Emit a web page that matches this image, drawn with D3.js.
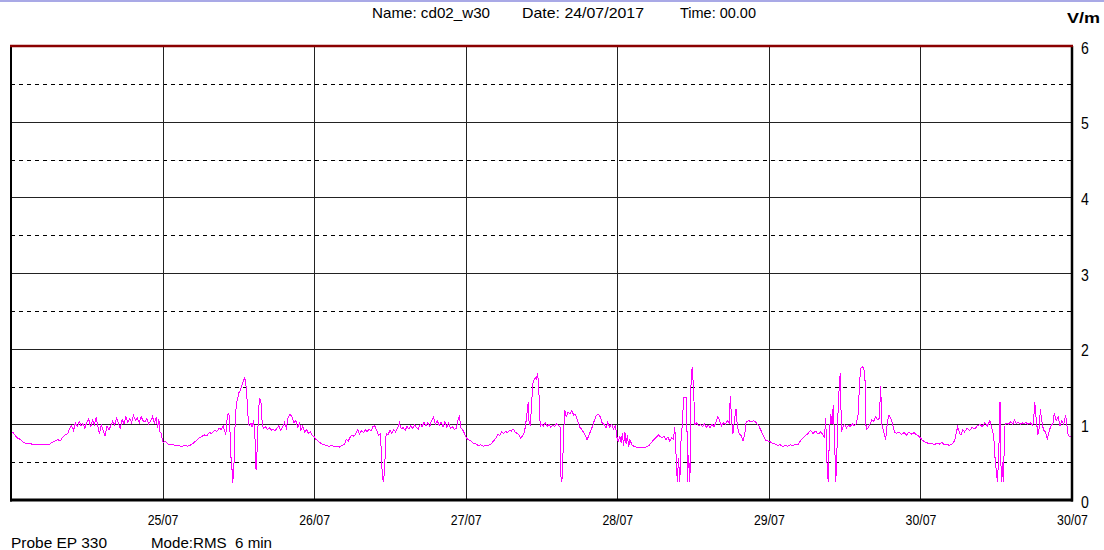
<!DOCTYPE html>
<html>
<head>
<meta charset="utf-8">
<script src="https://cdn.jsdelivr.net/npm/d3@7"></script>
<style>
  body { margin: 0; background: #fff; }
  text { font-family: "Liberation Sans", Arial, sans-serif; fill: #000; white-space: pre; }
</style>
</head>
<body>
<svg id="chart" width="1104" height="550"></svg>
<script>
// values: [hours since 24/07 00:00, V/m]
var day1 = [[0,0.88],[0.3,0.90],[0.6,0.86],[1,0.82],[1.5,0.80],[2,0.76],[2.5,0.74],[3,0.75],[3.5,0.73],[4,0.73],[5,0.73],[5.5,0.74],[6,0.73],[6.5,0.76],[7,0.78],[7.4,0.80],[7.8,0.78],[8.2,0.83],[8.6,0.86],[9,0.88],[9.3,0.95],[9.6,0.98],[9.9,0.92],[10.2,1.02],[10.5,0.97],[10.8,1.04],[11.1,0.98],[11.4,1.01],[11.7,0.95],[12,1.03],[12.3,1.07],[12.6,0.96],[12.9,1.05],[13.2,1.00],[13.5,1.09],[13.8,0.95],[14,0.88],[14.3,0.99],[14.6,0.92],[14.9,0.85],[15.2,0.97],[15.5,0.93],[15.8,0.98],[16.1,1.04],[16.4,0.99],[16.7,1.08],[17,1.02],[17.3,0.95],[17.6,1.06],[17.9,1.01],[18.2,1.10],[18.5,1.03],[18.8,1.08],[19.1,1.02],[19.4,1.12],[19.7,1.05],[20,1.08],[20.3,1.02],[20.6,1.10],[20.9,1.05],[21.2,1.03],[21.5,1.08],[21.8,1.01],[22.1,1.04],[22.4,1.10],[22.7,1.02],[23,1.09],[23.2,0.95],[23.4,1.07],[23.6,0.90],[23.8,0.88],[24,0.77]];
var day2 = [[24.1,0.76],[24.4,0.78],[24.8,0.74],[25.2,0.73],[25.6,0.74],[26,0.72],[26.5,0.72],[27,0.71],[27.5,0.72],[28,0.71],[28.5,0.73],[29,0.76],[29.4,0.79],[29.8,0.82],[30.2,0.84],[30.6,0.86],[31,0.85],[31.4,0.89],[31.8,0.88],[32.2,0.92],[32.6,0.91],[33,0.95],[33.3,0.93],[33.6,0.98],[33.8,0.92],[34,0.86],[34.2,1.05],[34.4,1.15],[34.6,1.10],[34.8,0.60],[35,0.40],[35.1,0.22],[35.3,0.45],[35.5,1.05],[35.7,1.28],[35.9,1.35],[36.1,1.42],[36.3,1.45],[36.6,1.52],[36.8,1.58],[37,1.62],[37.2,1.52],[37.4,1.30],[37.6,1.00],[37.8,0.98],[38,1.02],[38.2,0.96],[38.4,1.05],[38.6,0.90],[38.8,0.40],[39,0.70],[39.2,1.20],[39.4,1.35],[39.6,1.28],[39.8,0.98],[40,0.95],[40.3,0.97],[40.6,0.93],[40.9,0.96],[41.2,0.92],[41.5,0.94],[41.8,0.91],[42.1,0.95],[42.4,0.98],[42.7,0.92],[43,0.96],[43.3,1.02],[43.6,0.95],[43.9,1.10],[44.2,1.13],[44.5,1.10],[44.8,1.02],[45.1,1.05],[45.4,0.96],[45.7,1.02],[45.9,0.92],[46.2,0.98],[46.5,0.90],[46.8,0.93],[47.1,0.88],[47.4,0.90],[47.7,0.85],[48,0.84]];
var day3 = [[48.3,0.80],[48.6,0.78],[48.9,0.76],[49.2,0.74],[49.6,0.73],[50,0.72],[50.4,0.71],[50.8,0.72],[51.2,0.70],[51.6,0.71],[52,0.70],[52.4,0.72],[52.8,0.74],[53.1,0.80],[53.4,0.78],[53.7,0.83],[54,0.86],[54.3,0.84],[54.6,0.88],[54.9,0.93],[55.2,0.87],[55.5,0.92],[55.8,0.89],[56.1,0.93],[56.4,0.90],[56.7,0.94],[57,0.91],[57.3,0.97],[57.6,0.98],[57.9,0.92],[58.2,0.86],[58.5,0.88],[58.8,0.30],[59,0.24],[59.2,0.50],[59.4,0.88],[59.7,0.86],[60,0.92],[60.3,0.88],[60.6,0.93],[60.9,0.90],[61.2,0.95],[61.5,1.02],[61.8,0.94],[62.1,0.96],[62.4,0.92],[62.7,0.97],[63,0.94],[63.3,0.98],[63.6,0.95],[63.9,0.99],[64.2,0.96],[64.5,0.94],[64.8,1.00],[65.1,0.97],[65.4,1.03],[65.7,0.98],[66,1.02],[66.3,0.97],[66.6,1.05],[66.9,1.10],[67.2,1.00],[67.5,1.05],[67.8,0.98],[68.1,1.03],[68.4,0.97],[68.7,1.04],[69,0.96],[69.3,1.02],[69.6,0.95],[69.9,0.97],[70.2,0.93],[70.5,0.95],[70.8,1.06],[71,1.12],[71.2,0.96],[71.5,0.93],[71.8,0.88],[72.1,0.82]];
var day4 = [[72.4,0.80],[72.8,0.78],[73.2,0.75],[73.6,0.74],[74,0.72],[74.4,0.73],[74.8,0.71],[75.2,0.72],[75.6,0.72],[76,0.74],[76.4,0.78],[76.8,0.82],[77.1,0.87],[77.4,0.85],[77.7,0.90],[78,0.88],[78.3,0.91],[78.6,0.89],[78.9,0.92],[79.2,0.91],[79.5,0.94],[79.8,0.90],[80.1,0.88],[80.4,0.87],[80.7,0.82],[81,0.85],[81.3,0.90],[81.5,1.00],[81.7,1.15],[81.9,1.30],[82,1.05],[82.2,0.98],[82.4,1.20],[82.6,1.54],[82.8,1.58],[83,1.62],[83.2,1.60],[83.4,1.68],[83.6,1.40],[83.8,0.97],[84,1.00],[84.3,0.98],[84.6,1.02],[84.9,0.97],[85.2,1.00],[85.5,0.96],[85.8,0.99],[86.1,0.97],[86.4,1.01],[86.7,0.98],[87,0.96],[87.1,0.24],[87.3,0.30],[87.5,0.90],[87.7,1.19],[87.9,1.10],[88.2,1.16],[88.5,1.14],[88.8,1.18],[89.1,1.12],[89.4,1.13],[89.7,1.05],[90,0.97],[90.3,0.94],[90.6,0.90],[90.9,0.86],[91.2,0.80],[91.5,0.85],[91.8,0.92],[92.1,0.98],[92.4,1.06],[92.7,1.12],[93,1.13],[93.3,1.10],[93.6,1.02],[93.9,1.00],[94.2,0.95],[94.5,1.03],[94.8,0.96],[95.1,1.00],[95.4,0.94],[95.7,0.98],[96,0.80]];
var day5 = [[96.2,0.78],[96.4,0.85],[96.6,0.76],[96.8,0.88],[97,0.72],[97.2,0.90],[97.4,0.74],[97.6,0.86],[97.8,0.70],[98,0.80],[98.3,0.73],[98.6,0.71],[99,0.70],[99.4,0.69],[99.8,0.70],[100.2,0.69],[100.6,0.70],[101,0.72],[101.4,0.76],[101.8,0.80],[102.2,0.83],[102.5,0.86],[102.8,0.84],[103.1,0.82],[103.4,0.85],[103.7,0.80],[104,0.83],[104.3,0.78],[104.6,0.82],[104.9,0.80],[105.1,0.97],[105.3,0.60],[105.5,0.24],[105.7,0.55],[105.9,0.24],[106.1,0.80],[106.3,1.00],[106.5,1.35],[106.8,1.35],[107,1.35],[107.1,0.24],[107.3,0.60],[107.5,0.24],[107.7,1.70],[107.9,1.75],[108.1,1.40],[108.3,1.00],[108.6,1.02],[108.9,0.98],[109.2,1.00],[109.5,0.97],[109.8,1.01],[110.1,0.96],[110.4,0.99],[110.7,0.95],[111,1.00],[111.3,0.97],[111.6,1.02],[111.9,1.10],[112.2,1.05],[112.5,0.98],[112.8,1.02],[113.1,1.00],[113.4,1.05],[113.7,1.02],[113.9,1.37],[114.1,1.05],[114.3,0.87],[114.6,1.08],[114.8,1.20],[115,0.98],[115.3,0.88],[115.6,0.85],[115.9,0.78],[116.2,0.88],[116.4,1.03],[116.8,1.05],[117.2,1.03],[117.6,1.05],[118,1.02],[118.4,0.98],[118.8,0.91],[119.1,0.85],[119.5,0.79],[119.8,0.78]];
var day6 = [[120.2,0.77],[120.6,0.75],[121,0.74],[121.4,0.72],[121.8,0.73],[122.2,0.71],[122.6,0.72],[123,0.71],[123.4,0.73],[123.8,0.72],[124.2,0.74],[124.6,0.73],[125,0.78],[125.4,0.82],[125.8,0.85],[126.2,0.88],[126.6,0.92],[127,0.88],[127.4,0.91],[127.8,0.87],[128.2,0.90],[128.6,0.86],[128.8,0.82],[129,1.08],[129.2,0.50],[129.4,0.24],[129.6,0.90],[129.8,1.14],[130,1.00],[130.2,1.25],[130.4,0.80],[130.6,0.24],[130.8,0.70],[131,1.30],[131.3,1.68],[131.5,0.90],[131.7,0.96],[132,1.00],[132.3,0.95],[132.6,0.99],[132.9,0.97],[133.2,1.01],[133.5,0.98],[133.8,1.00],[134.1,1.10],[134.4,1.60],[134.6,1.75],[134.9,1.76],[135.2,1.68],[135.4,0.93],[135.7,0.95],[136,1.00],[136.3,1.06],[136.6,1.04],[136.9,1.10],[137.2,1.06],[137.5,1.08],[137.7,1.50],[137.9,1.00],[138.2,0.90],[138.5,0.80],[138.8,1.05],[139,1.12],[139.3,1.08],[139.6,1.00],[139.9,0.90],[140.2,0.88],[140.6,0.90],[141,0.87],[141.4,0.89],[141.8,0.86],[142.2,0.90],[142.6,0.87],[143,0.89],[143.4,0.86],[143.8,0.84]];
var day7 = [[144.2,0.80],[144.6,0.77],[145,0.76],[145.4,0.74],[145.8,0.75],[146.2,0.73],[146.6,0.75],[147,0.74],[147.4,0.76],[147.8,0.73],[148.2,0.74],[148.6,0.72],[149,0.74],[149.4,0.78],[149.7,0.90],[149.9,0.97],[150.2,0.88],[150.4,0.86],[150.7,0.93],[151,0.90],[151.4,0.95],[151.8,0.92],[152.2,0.96],[152.6,0.94],[153,0.98],[153.4,1.00],[153.8,0.97],[154.2,1.02],[154.6,0.98],[155,1.05],[155.3,0.95],[155.6,0.85],[155.8,0.57],[156,0.40],[156.2,0.24],[156.4,0.60],[156.6,1.30],[156.8,0.24],[157,0.50],[157.1,0.24],[157.4,1.00],[157.7,1.02],[158,1.00],[158.3,1.04],[158.6,1.00],[158.9,1.06],[159.2,1.01],[159.5,1.03],[159.8,1.00],[160.1,1.02],[160.4,1.01],[160.7,1.03],[161,1.00],[161.4,1.02],[161.8,0.98],[162,1.15],[162.1,1.30],[162.3,1.10],[162.6,0.86],[162.8,0.95],[163,1.20],[163.2,1.05],[163.5,0.92],[163.8,0.90],[164.1,0.80],[164.4,0.92],[164.7,0.98],[165,1.02],[165.2,1.15],[165.5,1.05],[165.8,1.10],[166.1,0.98],[166.4,1.05],[166.7,1.00],[167,1.12],[167.2,0.98],[167.4,0.85],[167.7,0.84],[167.9,0.83]];

var dayTicks = [24, 48, 72, 96, 120, 144, 168];
var dayLabels = ['25/07', '26/07', '27/07', '28/07', '29/07', '30/07', '30/07'];
var majorTicks = [0, 1, 2, 3, 4, 5, 6];
var halfTicks = [0.5, 1.5, 2.5, 3.5, 4.5, 5.5];

var header = [
  { text: 'Name: cd02_w30', x: 372, w: 118 },
  { text: 'Date: 24/07/2017', x: 522, w: 122 },
  { text: 'Time: 00.00', x: 680, w: 76 }
];
var footer = [
  { text: 'Probe EP 330', x: 11, w: 96 },
  { text: 'Mode:RMS  6 min', x: 151, w: 121 }
];

var series = day1.concat(day2, day3, day4, day5, day6, day7);

var svg = d3.select('#chart');
var plotLeft = 11, plotRight = 1072, plotTop = 46, plotBottom = 500;

var x = d3.scaleLinear().domain([0, 168]).range([plotLeft, plotRight]);
var y = d3.scaleLinear().domain([0, 6]).range([plotBottom, plotTop]);

// squeeze text into the narrow look of the original screenshot
var narrow = function(sel, k) {
  sel.each(function() {
    var len = this.getComputedTextLength();
    d3.select(this).attr('textLength', len * k).attr('lengthAdjust', 'spacingAndGlyphs');
  });
};

// thin lavender strip on top
svg.append('rect').attr('x', 0).attr('y', 0).attr('width', 1104).attr('height', 2).attr('fill', '#a9a9e6');

// header
svg.selectAll('text.header')
  .data(header)
  .enter().append('text')
  .attr('class', 'header')
  .attr('x', function(d) { return d.x; })
  .attr('y', 18)
  .style('font-size', '15px')
  .attr('textLength', function(d) { return d.w; })
  .attr('lengthAdjust', 'spacingAndGlyphs')
  .text(function(d) { return d.text; });

svg.append('text')
  .attr('x', 1067).attr('y', 23)
  .style('font-size', '14px').style('font-weight', 'bold')
  .attr('textLength', 33).attr('lengthAdjust', 'spacingAndGlyphs')
  .text('V/m');

// grid
var grid = svg.append('g').attr('shape-rendering', 'crispEdges');
grid.selectAll('line.half')
  .data(halfTicks)
  .enter().append('line')
  .attr('x1', plotLeft).attr('x2', plotRight)
  .attr('y1', function(d) { return Math.round(y(d)) + 0.5; })
  .attr('y2', function(d) { return Math.round(y(d)) + 0.5; })
  .attr('stroke', '#000').attr('stroke-width', 1).attr('stroke-dasharray', '4,4');

grid.selectAll('line.major')
  .data(majorTicks.slice(1, 6))
  .enter().append('line')
  .attr('x1', plotLeft).attr('x2', plotRight)
  .attr('y1', function(d) { return Math.round(y(d)) + 0.5; })
  .attr('y2', function(d) { return Math.round(y(d)) + 0.5; })
  .attr('stroke', '#222').attr('stroke-width', 1);

grid.selectAll('line.day')
  .data(dayTicks.slice(0, 6))
  .enter().append('line')
  .attr('x1', function(d) { return Math.round(x(d)) + 0.5; })
  .attr('x2', function(d) { return Math.round(x(d)) + 0.5; })
  .attr('y1', plotTop).attr('y2', plotBottom)
  .attr('stroke', '#222').attr('stroke-width', 1);

// data line, aliased like the original GDI drawing
var line = d3.line()
  .x(function(d) { return x(d[0]); })
  .y(function(d) { return y(d[1]); });

svg.append('path')
  .datum(series)
  .attr('d', line)
  .attr('fill', 'none')
  .attr('stroke', '#ff00ff')
  .attr('stroke-width', 1)
  .attr('shape-rendering', 'crispEdges');

// frame
svg.append('line').attr('x1', plotLeft).attr('x2', plotLeft).attr('y1', plotTop).attr('y2', plotBottom + 1.5)
  .attr('stroke', '#000').attr('stroke-width', 2);
svg.append('line').attr('x1', plotRight).attr('x2', plotRight).attr('y1', plotTop).attr('y2', plotBottom + 1.5)
  .attr('stroke', '#000').attr('stroke-width', 2.5);
svg.append('line').attr('x1', plotLeft - 1).attr('x2', plotRight + 1).attr('y1', plotBottom).attr('y2', plotBottom)
  .attr('stroke', '#000').attr('stroke-width', 3);
svg.append('line').attr('x1', plotLeft - 1).attr('x2', plotRight + 1).attr('y1', plotTop).attr('y2', plotTop)
  .attr('stroke', '#8b0000').attr('stroke-width', 2.5);

// right value axis
var yAxis = d3.axisRight(y).tickValues(majorTicks).tickFormat(d3.format('d'))
  .tickSize(0).tickPadding(0);
var ya = svg.append('g')
  .attr('transform', 'translate(' + (plotRight + 9) + ',2)')
  .call(yAxis);
ya.select('.domain').remove();
ya.selectAll('text').style('font-size', '16px').attr('fill', '#000')
  .style('font-family', '"Liberation Sans", Arial, sans-serif');
narrow(ya.selectAll('text'), 0.88);

// date axis
var xAxis = d3.axisBottom(x).tickValues(dayTicks)
  .tickFormat(function(d, i) { return dayLabels[i]; })
  .tickSize(0).tickPadding(14);
var xa = svg.append('g')
  .attr('transform', 'translate(0,' + plotBottom + ')')
  .call(xAxis);
xa.select('.domain').remove();
xa.selectAll('text').style('font-size', '15px').attr('fill', '#000')
  .style('font-family', '"Liberation Sans", Arial, sans-serif');
narrow(xa.selectAll('text'), 0.82);

// footer
svg.selectAll('text.footer')
  .data(footer)
  .enter().append('text')
  .attr('class', 'footer')
  .attr('x', function(d) { return d.x; })
  .attr('y', 548)
  .style('font-size', '15px')
  .attr('textLength', function(d) { return d.w; })
  .attr('lengthAdjust', 'spacingAndGlyphs')
  .text(function(d) { return d.text; });
</script>
</body>
</html>
